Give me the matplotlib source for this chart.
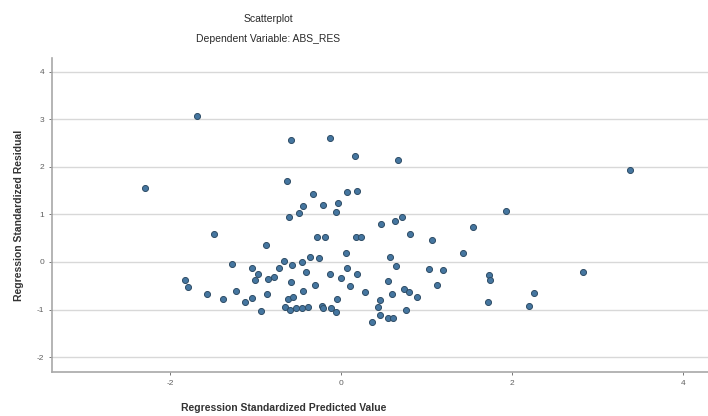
import numpy as np
import matplotlib
matplotlib.use('Agg')
from matplotlib import pyplot as plt

plt.rcParams['font.family'] = ['Liberation Sans', 'DejaVu Sans']
plt.rcParams['axes.unicode_minus'] = False

# Regression standardized predicted value (x) / standardized residual (y)
pred = [-2.29, -1.68, -1.49, -0.88, -0.58, -0.13, 0.16, 0.67, 3.38, -0.63,
        -0.33, 0.07, 0.19, -0.21, -0.44, -0.04, -0.06, -0.49, -0.61, 1.93,
        0.47, 0.63, 0.71, 1.54, 0.81, 0.18, 0.23, -0.28, -0.19, 1.06,
        1.43, 0.06, 0.57, -0.36, -0.26, -0.67, -0.46, -0.57, -1.27, -1.04,
        -0.73, 0.64, 0.07, 1.03, 1.19, 2.83, -0.41, -0.13, 0.19, -0.97,
        -1.01, -0.78, -0.85, 0.00, 1.73, 1.74, 0.55, 0.11, 1.12, -0.58,
        -0.30, -1.82, -1.79, -1.57, -1.38, -1.23, -1.12, -1.04, -0.87, -0.94,
        -0.44, -0.62, -0.56, -0.05, 0.28, 0.74, 0.80, 0.89, 0.60, 2.25,
        0.46, 0.43, 1.72, 2.20, 0.76, 0.46, 0.55, 0.61, 0.36, -0.65,
        -0.60, -0.53, -0.46, -0.39, -0.22, -0.21, -0.12, -0.06]
resid = [1.55, 3.07, 0.59, 0.36, 2.56, 2.61, 2.23, 2.14, 1.93, 1.70,
         1.43, 1.47, 1.49, 1.20, 1.18, 1.24, 1.05, 1.03, 0.95, 1.07,
         0.80, 0.86, 0.95, 0.74, 0.59, 0.53, 0.53, 0.53, 0.53, 0.46,
         0.19, 0.19, 0.10, 0.10, 0.08, 0.02, 0.00, -0.06, -0.04, -0.13,
         -0.13, -0.08, -0.13, -0.15, -0.17, -0.21, -0.21, -0.25, -0.25, -0.25,
         -0.38, -0.32, -0.36, -0.34, -0.27, -0.38, -0.40, -0.50, -0.48, -0.42,
         -0.48, -0.38, -0.53, -0.67, -0.78, -0.61, -0.84, -0.76, -0.67, -1.03,
         -0.61, -0.78, -0.74, -0.78, -0.63, -0.57, -0.63, -0.74, -0.67, -0.65,
         -0.80, -0.95, -0.84, -0.92, -1.01, -1.11, -1.18, -1.18, -1.26, -0.95,
         -1.01, -0.97, -0.97, -0.95, -0.92, -0.97, -0.97, -1.05]

xticks = [-2, 0, 2, 4]
yticks = [-2, -1, 0, 1, 2, 3, 4]

fig = plt.figure(figsize=(7.08, 4.16), dpi=100)
ax = fig.add_axes([0.0734, 0.106, 0.9266, 0.755])

ax.scatter(pred, resid, s=19, c='#4576a0', edgecolors='#2f4d66',
           linewidths=0.7, zorder=3)

ax.set_xlim(-3.38, 4.29)
ax.set_ylim(-2.31, 4.29)
ax.set_xticks(xticks)
ax.set_yticks(yticks)
ax.tick_params(labelsize=6, colors='#606060', length=2, width=0.6)
ax.yaxis.grid(True, color='#d8d8d8', linewidth=1.0, zorder=0)
ax.set_axisbelow(True)
for s in ['top', 'right']:
    ax.spines[s].set_visible(False)
for s in ['left', 'bottom']:
    ax.spines[s].set_color('#a8a8a8')
    ax.spines[s].set_linewidth(1.2)

fig.text(268/708, 1 - 19/416, 'Scatterplot', ha='center', va='center',
         fontsize=7.5, color='#2a2a2a')
fig.text(268/708, 1 - 39/416, 'Dependent Variable: ABS_RES', ha='center',
         va='center', fontsize=7.5, color='#2a2a2a')
fig.text(284/708, 1 - 408/416, 'Regression Standardized Predicted Value',
         ha='center', va='center', fontsize=7.5, color='#333333',
         fontweight='bold')
fig.text(19/708, 1 - 215/416, 'Regression Standardized Residual',
         ha='center', va='center', rotation=90, fontsize=7.5,
         color='#333333', fontweight='bold')

fig.savefig('out.png', dpi=100)
